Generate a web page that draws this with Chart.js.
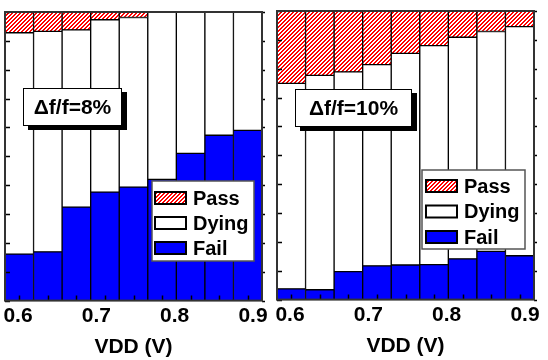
<!DOCTYPE html>
<html><head><meta charset="utf-8">
<script src="https://cdn.jsdelivr.net/npm/chart.js@4.4.0/dist/chart.umd.min.js"></script>
<style>
html,body{margin:0;padding:0;background:#fff;}
#wrap{position:relative;width:548px;height:360px;overflow:hidden;background:#fff;}
.p{position:absolute;top:0;height:360px;}
</style></head><body>
<div id="wrap">
<div class="p" style="left:0;width:272px"><canvas id="c1" width="272" height="360"></canvas></div>
<div class="p" style="left:272px;width:276px"><canvas id="c2" width="276" height="360"></canvas></div>
</div>
<script>
// ---- data ----
const categories = ['0.600','0.638','0.675','0.713','0.750','0.788','0.825','0.863','0.900'];
const xTickLabels = [0.6, 0.7, 0.8, 0.9];
const yTicks = [0, 0.1, 0.2, 0.3, 0.4, 0.5, 0.6, 0.7, 0.8, 0.9, 1.0];
const seriesNames = ['Fail', 'Dying', 'Pass'];

const fail8  = [0.161, 0.169, 0.324, 0.376, 0.393, 0.420, 0.510, 0.573, 0.590];
const dying8 = [0.767, 0.764, 0.614, 0.597, 0.588, 0.580, 0.490, 0.427, 0.410];
const pass8  = [0.072, 0.067, 0.062, 0.027, 0.019, 0.000, 0.000, 0.000, 0.000];

const fail10  = [0.037, 0.034, 0.097, 0.117, 0.120, 0.121, 0.141, 0.167, 0.152];
const dying10 = [0.712, 0.743, 0.692, 0.697, 0.733, 0.759, 0.768, 0.762, 0.794];
const pass10  = [0.251, 0.223, 0.211, 0.186, 0.147, 0.120, 0.091, 0.071, 0.054];

const FONT = "'Liberation Sans', Arial, Helvetica, sans-serif";

function hatch(ctx){
  const c = document.createElement('canvas'); c.width = 4; c.height = 4;
  const g = c.getContext('2d');
  g.fillStyle = '#fff'; g.fillRect(0,0,4,4);
  g.fillStyle = '#ff0000';
  for (let x=0;x<4;x++) for (let y=0;y<4;y++) if ((x+y)%4<2) g.fillRect(x,y,1,1);
  return ctx.createPattern(c,'repeat');
}

const deco = {
  id: 'deco',
  afterDatasetsDraw(chart, args, o){
    const {ctx, chartArea:a, scales} = chart;
    const ys = scales.y, xs = scales.x;
    ctx.save();
    // ticks
    ctx.strokeStyle = '#000'; ctx.lineWidth = 1.5;
    ctx.beginPath();
    yTicks.forEach(v=>{
      const py = Math.round(ys.getPixelForValue(v)) + 0.5;
      ctx.moveTo(a.left, py); ctx.lineTo(a.left+5, py);
      ctx.moveTo(a.right, py); ctx.lineTo(a.right+3, py);
    });
    categories.forEach((c,i)=>{
      const px = Math.round(xs.getPixelForValue(i)) + 0.5;
      ctx.moveTo(px, a.bottom); ctx.lineTo(px, a.bottom-5);
    });
    ctx.stroke();
    // frame
    ctx.strokeStyle = '#333'; ctx.lineWidth = 2;
    ctx.strokeRect(a.left, a.top, a.right-a.left, a.bottom-a.top);

    // annotation box with shadow
    const b = o.note;
    ctx.fillStyle = '#000';
    ctx.fillRect(b.x+5, b.y+4, b.w, b.h);
    ctx.fillStyle = '#fff';
    ctx.fillRect(b.x, b.y, b.w, b.h);
    ctx.strokeStyle = '#000'; ctx.lineWidth = 1;
    ctx.strokeRect(b.x+0.5, b.y+0.5, b.w-1, b.h-1);
    ctx.fillStyle = '#000';
    ctx.font = 'bold 21px ' + FONT;
    ctx.textAlign = 'center'; ctx.textBaseline = 'middle';
    ctx.fillText(b.text, b.x + b.w/2, b.y + b.h/2 + 1);

    // legend
    const L = o.legend;
    ctx.fillStyle = '#fff';
    ctx.fillRect(L.x, L.y, L.w, L.h);
    ctx.strokeStyle = '#555'; ctx.lineWidth = 1.5;
    ctx.strokeRect(L.x, L.y, L.w, L.h);
    const items = chart.data.datasets.slice().reverse();
    ctx.font = 'bold 20px ' + FONT;
    ctx.textAlign = 'left'; ctx.textBaseline = 'middle';
    items.forEach((ds, i)=>{
      const cy = L.row0 + i*L.step;
      ctx.fillStyle = ds.backgroundColor;
      ctx.fillRect(L.sx, cy-6, 31, 12);
      ctx.strokeStyle = '#000'; ctx.lineWidth = 2;
      ctx.strokeRect(L.sx, cy-6, 31, 12);
      ctx.fillStyle = '#000';
      ctx.fillText(ds.label, L.tx, cy + 1);
    });
    ctx.restore();
  }
};

function makeChart(id, fail, dying, pass, note, legend, pad, xr){
  const canvas = document.getElementById(id);
  const ctx = canvas.getContext('2d');
  const pat = hatch(ctx);
  const mk = (label, data, bg) => ({label, data, backgroundColor: bg, borderColor:'#000', borderWidth:1, borderSkipped:false, stack:'s'});
  return new Chart(ctx, {
    type: 'bar',
    data: {
      labels: categories,
      datasets: [
        mk(seriesNames[0], fail, '#0000ff'),
        mk(seriesNames[1], dying, '#ffffff'),
        mk(seriesNames[2], pass, pat)
      ]
    },
    options: {
      responsive: false,
      devicePixelRatio: 1,
      animation: false,
      layout: {padding: pad},
      barPercentage: 1,
      categoryPercentage: 1,
      plugins: {
        legend: {display:false},
        tooltip: {enabled:false},
        deco: {note, legend}
      },
      scales: {
        x: {type:'category', stacked:true, display:false},
        y: {stacked:true, min:0, max:1, display:false},
        xl: {
          type:'linear', position:'bottom', min:xr[0], max:xr[1], offset:false,
          afterBuildTicks: s => { s.ticks = xTickLabels.map(v=>({value:v})); },
          grid: {display:false, drawTicks:false, offset:false},
          border: {display:false},
          ticks: {autoSkip:false, maxRotation:0, padding:3, color:'#000',
                  font:{family:FONT, size:21, weight:'bold'},
                  callback: v => Number(v).toFixed(1)},
          title: {display:true, text:'VDD (V)', color:'#000',
                  font:{family:FONT, size:21, weight:'bold'},
                  padding:{top:3, bottom:0}}
        }
      }
    },
    plugins: [deco]
  });
}

const xr = [0.5834, 0.9115];
makeChart('c1', fail8, dying8, pass8,
  {x:23, y:88, w:99, h:38, text:'\u0394f/f=8%'},
  {x:152, y:181, w:102, h:80, sx:155, tx:193, row0:198, step:25},
  {left:5, right:10, top:12, bottom:0}, xr);
makeChart('c2', fail10, dying10, pass10,
  {x:23, y:89, w:117, h:38, text:'\u0394f/f=10%'},
  {x:150, y:170, w:103, h:79, sx:154, tx:192, row0:186, step:25.5},
  {left:5, right:14, top:11, bottom:1}, xr);
</script>
</body></html>
